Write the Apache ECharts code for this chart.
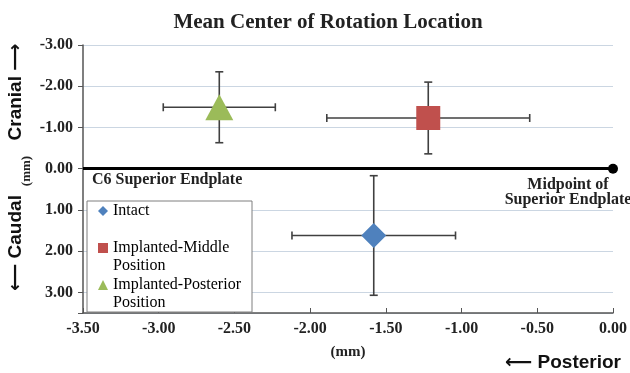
<!DOCTYPE html>
<html>
<head>
<meta charset="utf-8">
<script src="https://cdn.jsdelivr.net/npm/echarts@6/dist/echarts.min.js"></script>
<style>
  html, body { margin: 0; padding: 0; background: #fff; }
  #chart { width: 630px; height: 373px; }
</style>
</head>
<body>
<div id="chart"></div>
<script>
// mean center of rotation (mm) with +/- SD
const seriesNames = ['Intact', 'Implanted-Middle Position', 'Implanted-Posterior Position']
const seriesColors = ['#4f81bd', '#c0504d', '#9bbb59']
const seriesSymbols = ['diamond', 'rect', 'triangle']
const meanX = [-1.58, -1.22, -2.60]
const meanY = [1.62, -1.23, -1.49]
const sdX = [0.54, 0.67, 0.37]
const sdY = [1.45, 0.87, 0.86]

const serif = "'Liberation Serif', 'Times New Roman', serif"
const sans = "'Liberation Sans', Arial, 'DejaVu Sans', sans-serif"

const chart = echarts.init(document.getElementById('chart'))

const symbolSizes = [25, 24, [28, 26]]
// one legend per entry so the marker sits on the first text line like Excel does
const legendTops = [202, 221, 258]

const errorData = meanX.map((x, i) => [x, meanY[i], sdX[i], sdY[i]])

function renderErrorBar(params, api) {
  const x = api.value(0)
  const y = api.value(1)
  const ex = api.value(2)
  const ey = api.value(3)
  const l = api.coord([x - ex, y])
  const r = api.coord([x + ex, y])
  const t = api.coord([x, y - ey])
  const b = api.coord([x, y + ey])
  const cap = 4
  const style = { stroke: '#404040', lineWidth: 1.6 }
  const line = (x1, y1, x2, y2) => ({ type: 'line', shape: { x1, y1, x2, y2 }, style })
  return {
    type: 'group',
    children: [
      line(l[0], l[1], r[0], r[1]),
      line(l[0], l[1] - cap, l[0], l[1] + cap),
      line(r[0], r[1] - cap, r[0], r[1] + cap),
      line(t[0], t[1], b[0], b[1]),
      line(t[0] - cap, t[1], t[0] + cap, t[1]),
      line(b[0] - cap, b[1], b[0] + cap, b[1])
    ]
  }
}

const legends = seriesNames.map((name, i) => ({
  left: 98,
  top: legendTops[i],
  padding: 0,
  itemWidth: 10,
  itemHeight: 10,
  itemGap: 0,
  z: 6,
  data: [{ name, icon: seriesSymbols[i] }],
  formatter: (n) => (n.includes(' Position') ? ' \n' + n.replace(' Position', '\nPosition') : n),
  textStyle: {
    fontFamily: serif,
    fontSize: 16,
    color: '#000',
    lineHeight: 18
  }
}))

const scatterSeries = seriesNames.map((name, i) => ({
  name,
  type: 'scatter',
  symbol: seriesSymbols[i],
  symbolSize: symbolSizes[i],
  z: 4,
  itemStyle: { color: seriesColors[i], opacity: 1 },
  data: [[meanX[i], meanY[i]]]
}))

chart.setOption({
  animation: false,
  backgroundColor: '#fff',
  title: {
    text: 'Mean Center of Rotation Location',
    left: 323,
    top: 7,
    textAlign: 'center',
    textStyle: { fontFamily: serif, fontSize: 21, fontWeight: 'bold', color: '#222' }
  },
  grid: { left: 83, right: 16, top: 45, bottom: 60 },
  legend: legends,
  xAxis: {
    type: 'value',
    min: -3.5,
    max: 0,
    interval: 0.5,
    name: '(mm)',
    nameLocation: 'middle',
    nameGap: 32,
    nameTextStyle: { fontFamily: serif, fontSize: 15, fontWeight: 'bold', color: '#222' },
    axisLine: { onZero: false, lineStyle: { color: '#555', width: 1.5 } },
    axisTick: { inside: true, length: 5, lineStyle: { color: '#555' } },
    splitLine: { show: false },
    axisLabel: {
      margin: 8,
      fontFamily: serif,
      fontSize: 16,
      fontWeight: 'bold',
      color: '#222',
      formatter: (v) => v.toFixed(2)
    }
  },
  yAxis: {
    type: 'value',
    inverse: true,
    min: -3,
    max: 3.5,
    interval: 1,
    axisLine: { show: true, onZero: false, lineStyle: { color: '#555', width: 1.5 } },
    axisTick: { show: true, length: 5, lineStyle: { color: '#555' } },
    splitLine: { show: true, lineStyle: { color: '#cbd6e2', width: 1 } },
    axisLabel: {
      margin: 10,
      fontFamily: serif,
      fontSize: 16,
      fontWeight: 'bold',
      color: '#222',
      formatter: (v) => (v > 3 ? '' : v.toFixed(2))
    }
  },
  graphic: [
    {
      type: 'rect',
      z: 5,
      shape: { x: 87, y: 201, width: 165, height: 111 },
      style: { fill: '#fff', stroke: '#7f7f7f', lineWidth: 1 }
    },
    {
      type: 'text',
      x: 16,
      y: 92,
      rotation: Math.PI / 2,
      style: {
        text: 'Cranial \u27f6',
        font: 'bold 19px ' + sans,
        fill: '#111',
        align: 'center',
        verticalAlign: 'middle'
      }
    },
    {
      type: 'text',
      x: 27,
      y: 171,
      rotation: Math.PI / 2,
      style: {
        text: '(mm)',
        font: 'bold 13px ' + serif,
        fill: '#222',
        align: 'center',
        verticalAlign: 'middle'
      }
    },
    {
      type: 'text',
      x: 16,
      y: 243,
      rotation: Math.PI / 2,
      style: {
        text: '\u27f5 Caudal',
        font: 'bold 19px ' + sans,
        fill: '#111',
        align: 'center',
        verticalAlign: 'middle'
      }
    },
    {
      type: 'text',
      x: 92,
      y: 180,
      z: 3,
      style: {
        text: 'C6 Superior Endplate',
        font: 'bold 16px ' + serif,
        fill: '#222',
        verticalAlign: 'middle'
      }
    },
    {
      type: 'text',
      x: 568,
      y: 192,
      z: 3,
      style: {
        text: 'Midpoint of\nSuperior Endplate',
        font: 'bold 16px ' + serif,
        lineHeight: 15,
        fill: '#222',
        align: 'center',
        verticalAlign: 'middle'
      }
    },
    {
      type: 'text',
      x: 621,
      y: 363,
      style: {
        text: '\u27f5 Posterior',
        font: 'bold 19px ' + sans,
        fill: '#111',
        align: 'right',
        verticalAlign: 'middle'
      }
    }
  ],
  series: [
    {
      type: 'custom',
      name: 'error',
      z: 2,
      renderItem: renderErrorBar,
      data: errorData,
      encode: { x: 0, y: 1 },
      markLine: {
        silent: true,
        symbol: ['none', 'circle'],
        symbolSize: 10,
        label: { show: false },
        lineStyle: { color: '#000', width: 3, type: 'solid' },
        data: [{ yAxis: 0 }]
      }
    },
    ...scatterSeries
  ]
})
</script>
</body>
</html>
